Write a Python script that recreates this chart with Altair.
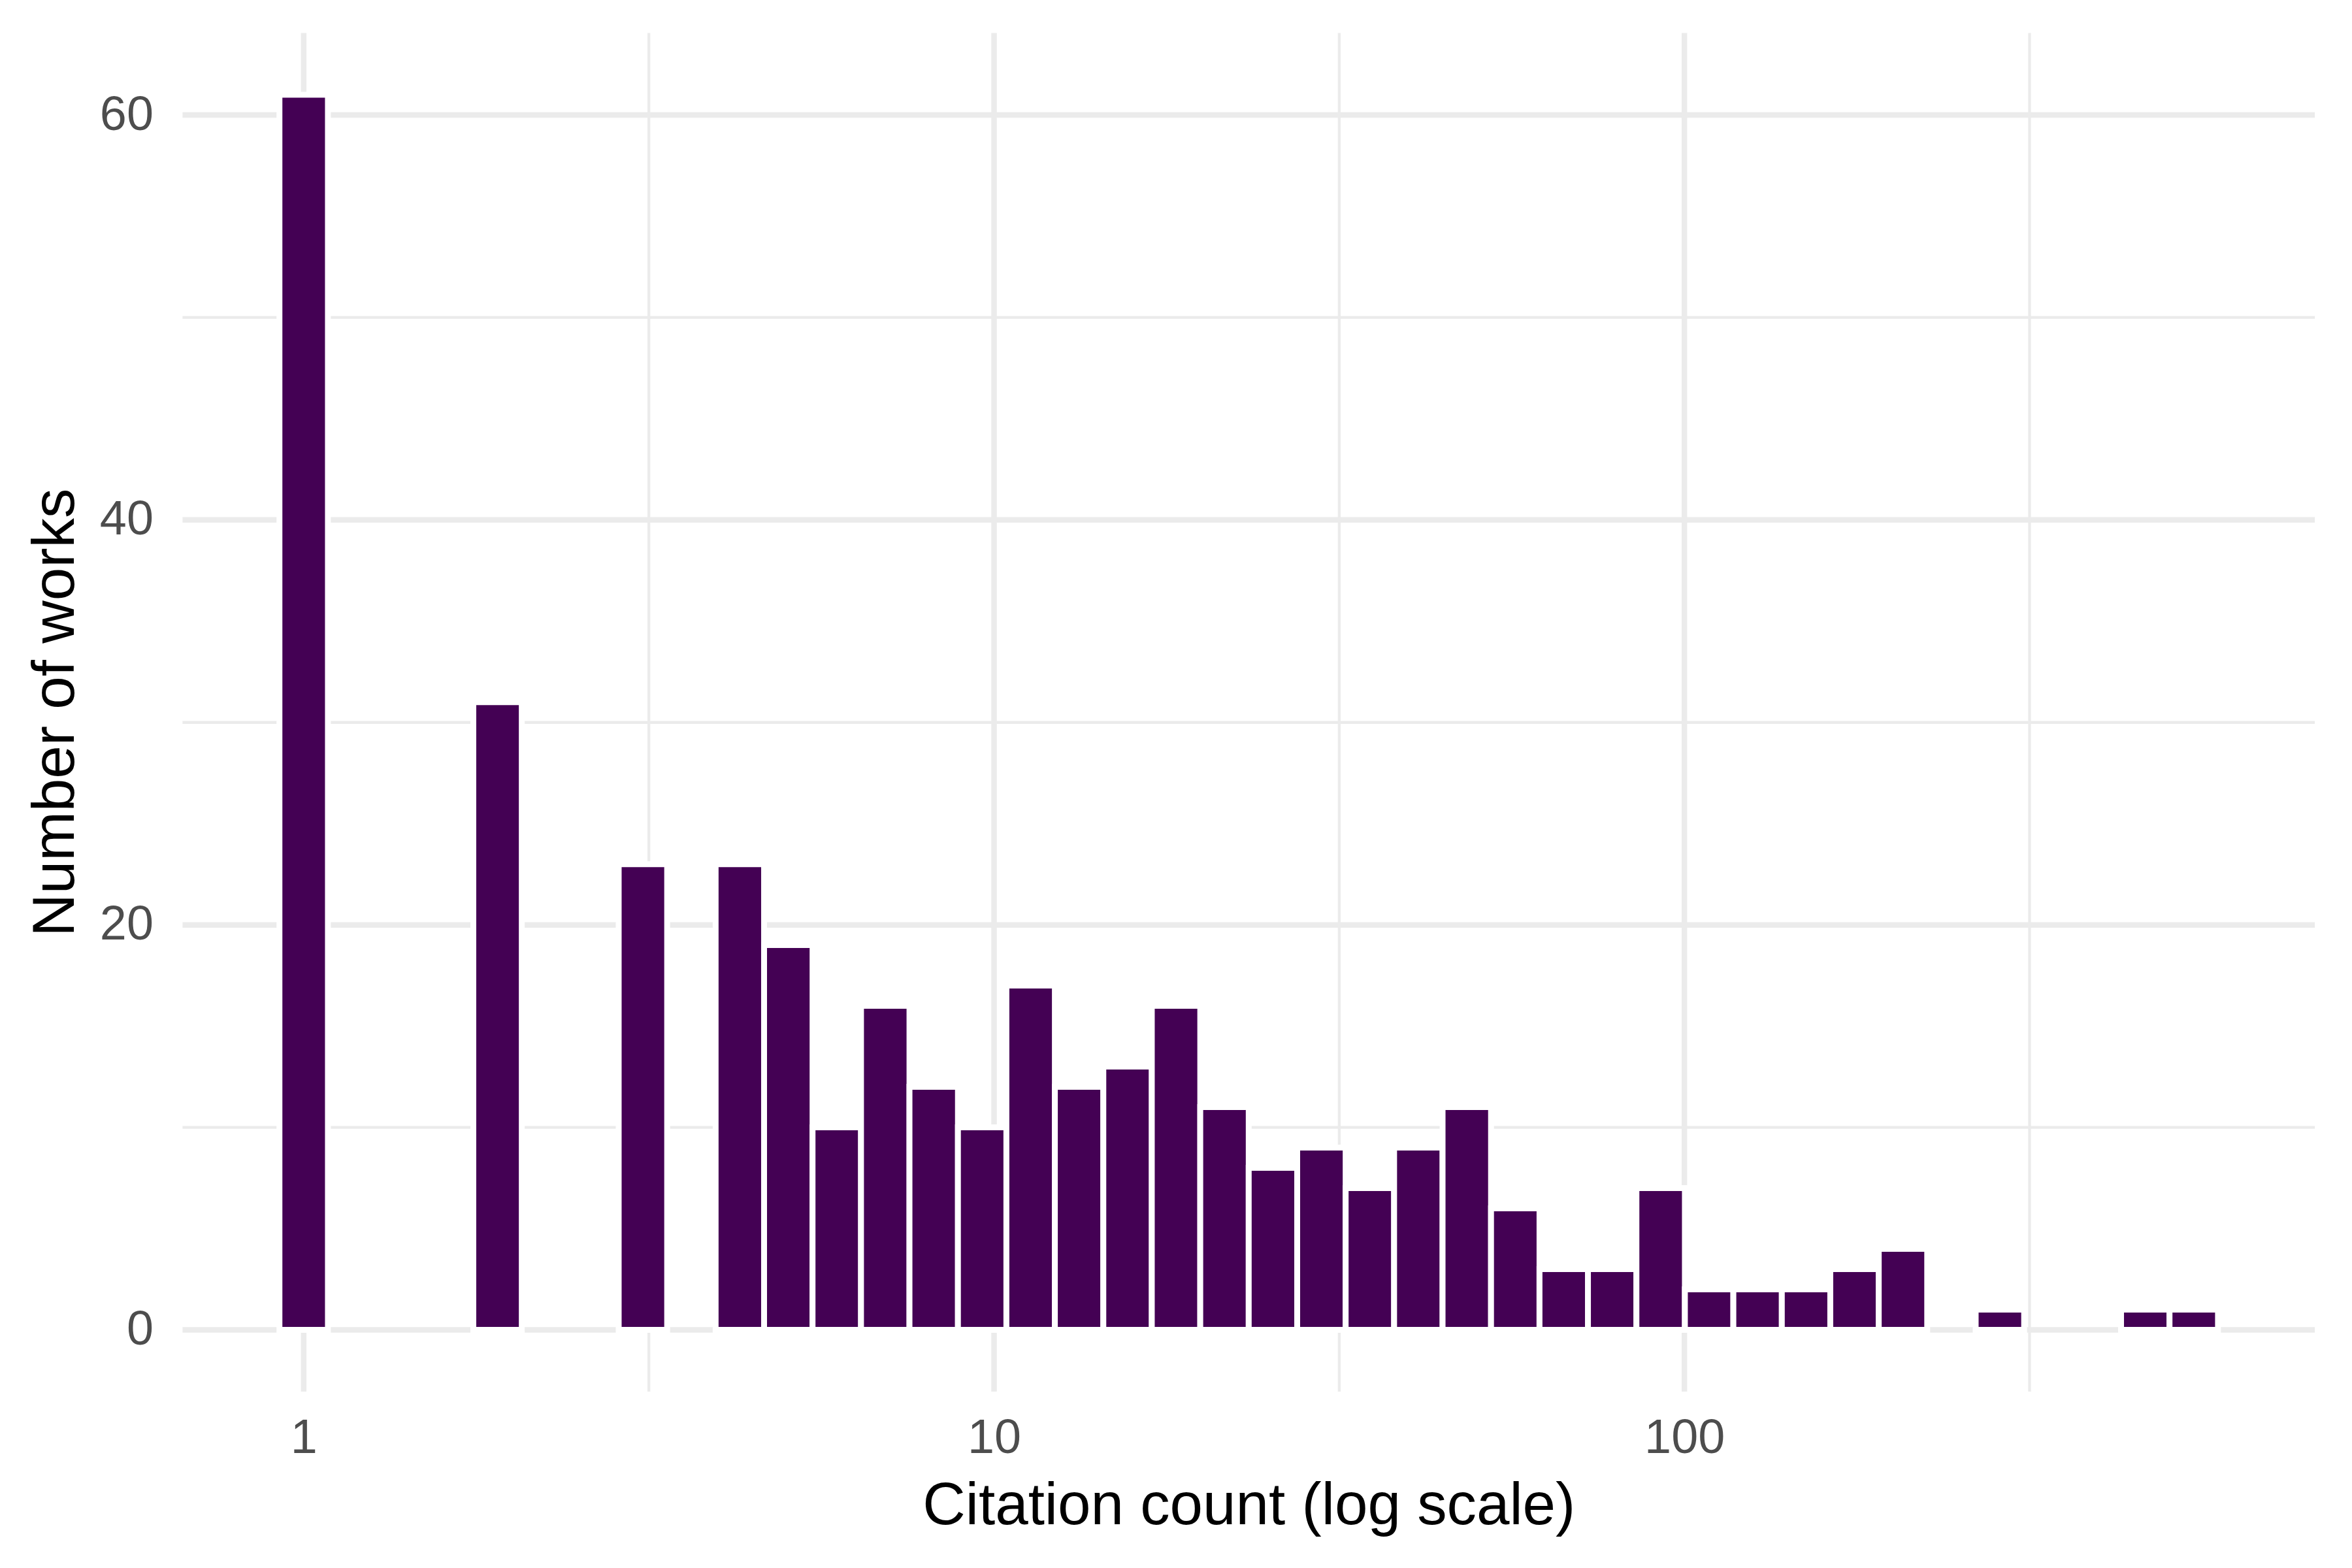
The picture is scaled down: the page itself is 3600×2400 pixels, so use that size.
import altair as alt
import pandas as pd

# Histogram of citation counts, 40 bins on a log10 scale (bin index k, centre at k * width in log10 units)
bin_index = [0, 4, 7, 9, 10, 11, 12, 13, 14, 15, 16, 17, 18, 19, 20, 21, 22, 23, 24,
             25, 26, 27, 28, 29, 30, 31, 32, 33, 35, 38, 39]
counts = [61, 31, 23, 23, 19, 10, 16, 12, 10, 17, 12, 13, 16, 11, 8, 9, 7, 9, 11,
          6, 3, 3, 7, 2, 2, 2, 3, 4, 1, 1, 1]
log_bin_width = 0.0702

x_major = [1, 10, 100]
x_minor = [3.1623, 31.623, 316.23]
y_major = [0, 20, 40, 60]
y_minor = [10, 30, 50]

bars = pd.DataFrame({
    "lo": [10 ** ((k - 0.5) * log_bin_width) for k in bin_index],
    "hi": [10 ** ((k + 0.5) * log_bin_width) for k in bin_index],
    "count": counts,
    "base": [0] * len(counts),
})

W, H = 3271, 2084
FONT = "Liberation Sans"

xscale = alt.Scale(type="log", domain=[0.6676, 818.8], nice=False, zero=False)
yscale = alt.Scale(domain=[-3.05, 64.05], nice=False, zero=False)

xaxis = alt.Axis(values=x_major, format="d", grid=False, domain=False, ticks=False, tickSize=0,
                 labelPadding=36, labelFontSize=74, labelColor="#4D4D4D", labelFont=FONT,
                 labelFlush=False, labelOverlap=False,
                 title="Citation count (log scale)", titleFontSize=91, titleFont=FONT,
                 titleColor="black", titleFontWeight="normal", titleY=203,
                 titleBaseline="alphabetic")
yaxis = alt.Axis(values=y_major, grid=False, domain=False, ticks=False, tickSize=0,
                 labelPadding=45, labelFontSize=74, labelColor="#4D4D4D", labelFont=FONT,
                 labelFlush=False, labelOverlap=False,
                 title="Number of works", titleFontSize=91, titleFont=FONT,
                 titleColor="black", titleFontWeight="normal", titleAngle=270,
                 titleX=-167, titleY=H / 2, titleAlign="center", titleBaseline="alphabetic")

GRID = "#EBEBEB"

vminor = alt.Chart(pd.DataFrame({"v": x_minor})).mark_rule(color=GRID, strokeWidth=4.3).encode(
    x=alt.X("v:Q", scale=xscale, axis=xaxis))
hminor = alt.Chart(pd.DataFrame({"v": y_minor})).mark_rule(color=GRID, strokeWidth=4.3).encode(
    y=alt.Y("v:Q", scale=yscale, axis=yaxis))
vmajor = alt.Chart(pd.DataFrame({"v": x_major})).mark_rule(color=GRID, strokeWidth=8.5).encode(
    x=alt.X("v:Q", scale=xscale, axis=xaxis))
hmajor = alt.Chart(pd.DataFrame({"v": y_major})).mark_rule(color=GRID, strokeWidth=8.5).encode(
    y=alt.Y("v:Q", scale=yscale, axis=yaxis))

hist = alt.Chart(bars).mark_rect(color="#440154", stroke="white", strokeWidth=9).encode(
    x=alt.X("lo:Q", scale=xscale, axis=xaxis),
    x2="hi:Q",
    y=alt.Y("count:Q", scale=yscale, axis=yaxis),
    y2="base:Q",
)

chart = alt.layer(vminor, hminor, vmajor, hmajor, hist).properties(
    width=W, height=H,
    autosize=alt.AutoSizeParams(type="none"),
    padding={"left": 272, "top": 40, "right": 49, "bottom": 268},
    background="white",
).configure_view(strokeWidth=0)

chart.save("out.html", embed_options={"renderer": "svg", "actions": False})
